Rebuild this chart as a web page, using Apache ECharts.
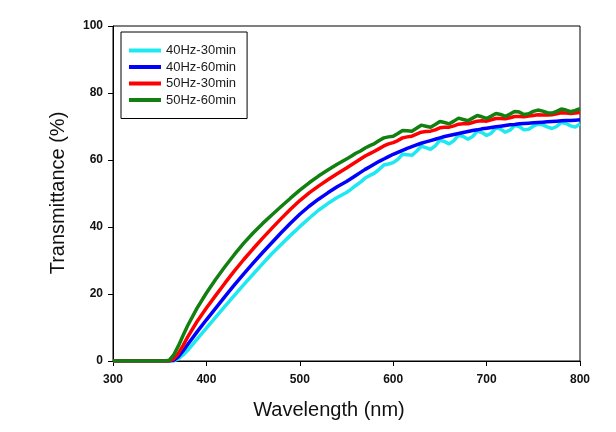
<!DOCTYPE html>
<html>
<head>
<meta charset="utf-8">
<script src="https://cdn.jsdelivr.net/npm/echarts@6/dist/echarts.min.js"></script>
<style>
html,body{margin:0;padding:0;background:#fff;}
#chart{width:616px;height:432px;}
</style>
</head>
<body>
<div id="chart"></div>
<script>
const wavelengths = [300, 355, 360, 365, 370, 375, 380, 390, 400, 410, 420, 430, 440, 450, 460, 470, 480, 490, 500, 510, 520, 530, 540, 550,
  555, 560, 565, 570, 575, 580, 585, 590, 595, 600, 605, 610, 615, 620, 625, 630, 635, 640, 645, 650, 655, 660, 665, 670, 675, 680, 685, 690, 695, 700,
  705, 710, 715, 720, 725, 730, 735, 740, 745, 750, 755, 760, 765, 770, 775, 780, 785, 790, 795, 800];

const hz40_30 = [0, 0, 0, 0, 0.7, 1.8, 3.2, 6.5, 9.8, 13.1, 16.4, 19.6, 22.8, 25.9, 29.0, 32.0, 34.8, 37.5, 40.1, 42.6, 45.0, 47.0, 48.8, 50.3,
  51.3, 52.4, 53.4, 54.6, 55.4, 56.1, 57.2, 58.5, 58.8, 59.2, 60.2, 61.7, 61.6, 61.4, 62.6, 64.1, 63.7, 63.2, 64.2, 65.9, 65.5, 64.8, 65.8, 67.4, 67.0, 66.2, 67.0, 68.6, 68.2, 67.3,
  68.0, 69.6, 69.2, 68.3, 68.9, 70.3, 70.0, 69.0, 69.2, 70.1, 70.7, 70.5, 69.9, 69.4, 70.0, 71.2, 70.9, 70.2, 69.8, 70.8];

const hz40_60 = [0, 0, 0, 0.2, 1.3, 3.0, 4.9, 8.7, 12.3, 15.8, 19.3, 22.7, 26.0, 29.2, 32.3, 35.3, 38.3, 41.1, 43.8, 46.2, 48.3, 50.2, 52.0, 53.6,
  54.5, 55.4, 56.3, 57.2, 58.0, 58.8, 59.6, 60.3, 61.0, 61.7, 62.3, 62.9, 63.5, 64.0, 64.5, 65.0, 65.4, 65.8, 66.2, 66.6, 67.0, 67.3, 67.6, 67.9, 68.2, 68.5, 68.8, 69.0, 69.3, 69.5,
  69.7, 69.9, 70.1, 70.3, 70.5, 70.6, 70.8, 70.9, 71.0, 71.1, 71.2, 71.3, 71.4, 71.5, 71.6, 71.7, 71.8, 71.8, 71.9, 72.0];

const hz50_30 = [0, 0, 0, 0.6, 2.3, 4.6, 7.2, 11.8, 15.8, 19.6, 23.3, 26.9, 30.3, 33.5, 36.6, 39.6, 42.5, 45.3, 47.9, 50.2, 52.2, 54.1, 55.9, 57.6,
  58.5, 59.4, 60.3, 61.2, 61.9, 62.6, 63.4, 64.2, 64.8, 65.2, 65.8, 66.6, 66.9, 67.1, 67.7, 68.3, 68.5, 68.6, 69.0, 69.6, 69.8, 69.8, 70.2, 70.7, 70.8, 70.8, 71.2, 71.6, 71.7, 71.6,
  72.0, 72.4, 72.4, 72.3, 72.6, 73.0, 73.0, 72.9, 73.1, 73.3, 73.5, 73.4, 73.4, 73.5, 73.8, 74.1, 74.0, 73.9, 74.0, 74.2];

const hz50_60 = [0, 0, 0.2, 1.8, 4.5, 7.6, 10.6, 15.8, 20.3, 24.4, 28.2, 31.8, 35.2, 38.2, 41.0, 43.6, 46.1, 48.6, 51.0, 53.2, 55.2, 57.0, 58.7, 60.3,
  61.1, 62.0, 62.7, 63.6, 64.3, 64.9, 65.8, 66.6, 66.9, 67.1, 67.9, 68.8, 68.7, 68.6, 69.5, 70.4, 70.1, 69.8, 70.6, 71.5, 71.2, 70.8, 71.6, 72.5, 72.1, 71.7, 72.5, 73.3, 72.9, 72.4,
  73.1, 73.9, 73.6, 73.0, 73.7, 74.5, 74.3, 73.6, 73.8, 74.5, 74.9, 74.6, 74.1, 74.0, 74.5, 75.2, 74.9, 74.4, 74.8, 75.3];

const seriesNames = ['40Hz-30min', '40Hz-60min', '50Hz-30min', '50Hz-60min'];
const seriesValues = [hz40_30, hz40_60, hz50_30, hz50_60];
const seriesColors = ['#1ee8f0', '#0000ff', '#ff0000', '#118011'];

const xTitle = 'Wavelength (nm)';
const yTitle = 'Transmittance (%)';

const FONT = '"Liberation Sans", Arial, sans-serif';

const chart = echarts.init(document.getElementById('chart'), null, {renderer: 'canvas'});

chart.setOption({
  animation: false,
  backgroundColor: '#ffffff',
  grid: {left: 113, right: 36, top: 26, bottom: 71, show: true, borderColor: '#000', borderWidth: 1, backgroundColor: 'transparent'},
  legend: {
    orient: 'vertical',
    left: 121, top: 32,
    padding: [12, 11, 12, 8],
    itemWidth: 32, itemHeight: 4, itemGap: 3.5,
    icon: 'rect',
    borderColor: '#000', borderWidth: 1,
    backgroundColor: '#fff',
    textStyle: {fontFamily: FONT, fontSize: 13, color: '#1a1a1a'},
    data: seriesNames
  },
  xAxis: {
    type: 'value', min: 300, max: 800, interval: 100,
    axisLine: {show: true, onZero: false, lineStyle: {color: '#000', width: 1}},
    axisTick: {show: true, inside: false, length: 5, lineStyle: {color: '#000'}},
    axisLabel: {margin: 13, fontFamily: FONT, fontSize: 12, fontWeight: 'bold', color: '#111'},
    splitLine: {show: false}
  },
  yAxis: {
    type: 'value', min: 0, max: 100, interval: 20,
    axisLine: {show: true, lineStyle: {color: '#000', width: 1}},
    axisTick: {show: true, inside: false, length: 5, lineStyle: {color: '#000'}},
    axisLabel: {margin: 10, fontFamily: FONT, fontSize: 12, fontWeight: 'bold', color: '#111'},
    splitLine: {show: false}
  },
  graphic: [
    {type: 'text', x: 329, y: 410, style: {text: xTitle, font: '20px ' + FONT, fill: '#111', align: 'center', verticalAlign: 'middle'}},
    {type: 'text', x: 58, y: 193, rotation: Math.PI / 2, style: {text: yTitle, font: '20px ' + FONT, fill: '#111', align: 'center', verticalAlign: 'middle'}}
  ],
  series: seriesNames.map((name, i) => ({
    name: name,
    type: 'line',
    showSymbol: false,
    symbol: 'none',
    smooth: false,
    color: seriesColors[i],
    lineStyle: {width: 3.5, color: seriesColors[i]},
    data: wavelengths.map((w, j) => [w, seriesValues[i][j]])
  }))
});
</script>
</body>
</html>
